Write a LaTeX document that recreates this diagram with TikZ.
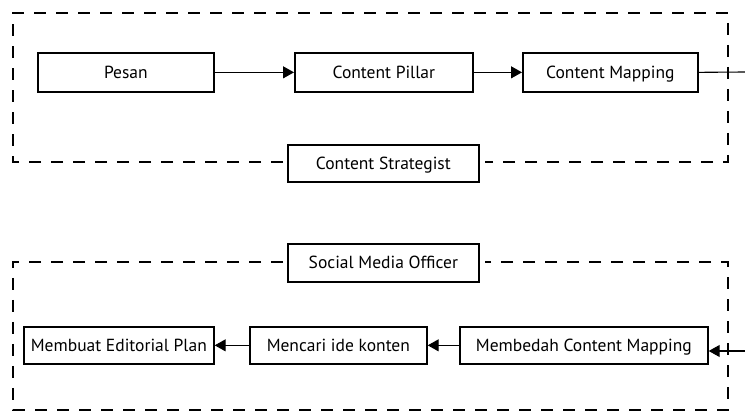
\documentclass[tikz,border=0pt]{standalone}
\usepackage{fontspec}
\setmainfont{PT Sans}
\usetikzlibrary{arrows.meta}
\begin{document}
\begin{tikzpicture}[x=1pt,y=-1pt,
  box/.style={draw,line width=1.7pt,inner sep=0pt,anchor=north west,text height=12.5pt,text depth=1pt,font=\fontsize{17.5}{20}\selectfont},
  conn/.style={line width=1.1pt},
  arr/.style={conn,-{Triangle[length=11pt,width=12pt]}},
  dashbox/.style={line width=1.8pt,dash pattern=on 12pt off 10pt}]
\useasboundingbox (0,0) rectangle (745,411);
\node[box,minimum width=176pt,minimum height=39pt] (pesan) at (37,52) {Pesan};
\node[box,minimum width=178pt,minimum height=39pt] (pillar) at (294,52) {Content Pillar};
\node[box,minimum width=175pt,minimum height=39pt] (mapping) at (522,52) {Content Mapping};
\node[box,minimum width=191pt,minimum height=37pt] (cs) at (287,144) {Content Strategist};
\node[box,minimum width=191pt,minimum height=38pt] (smo) at (287,243) {Social Media Officer};
\node[box,minimum width=190pt,minimum height=37pt] (edit) at (23,326) {Membuat Editorial Plan};
\node[box,minimum width=177pt,minimum height=37pt] (ide) at (249,326) {Mencari ide konten};
\node[box,minimum width=248pt,minimum height=37pt] (bedah) at (459,326) {Membedah Content Mapping};
\coordinate (outA) at (745,72);
\coordinate (inB) at (745,351);
\draw[arr] (pesan) -- (pillar);
\draw[arr] (pillar) -- (mapping);
\draw[conn] (mapping.east) -- (outA);
\draw[arr] (inB) -- (inB -| bedah.east);
\draw[arr] (bedah) -- (ide);
\draw[arr] (ide) -- (edit);
\draw[dashbox] ([xshift=-4pt]cs.west |- 0,162) -- (13,162) -- (13,13) -- (728,13) -- (728,162) -- ([xshift=5pt]cs.east |- 0,162);
\draw[dashbox] ([xshift=-4pt]smo.west |- 0,262) -- (13,262) -- (13,410) -- (728,410) -- (728,262) -- ([xshift=5pt]smo.east |- 0,262);
\end{tikzpicture}
\end{document}
